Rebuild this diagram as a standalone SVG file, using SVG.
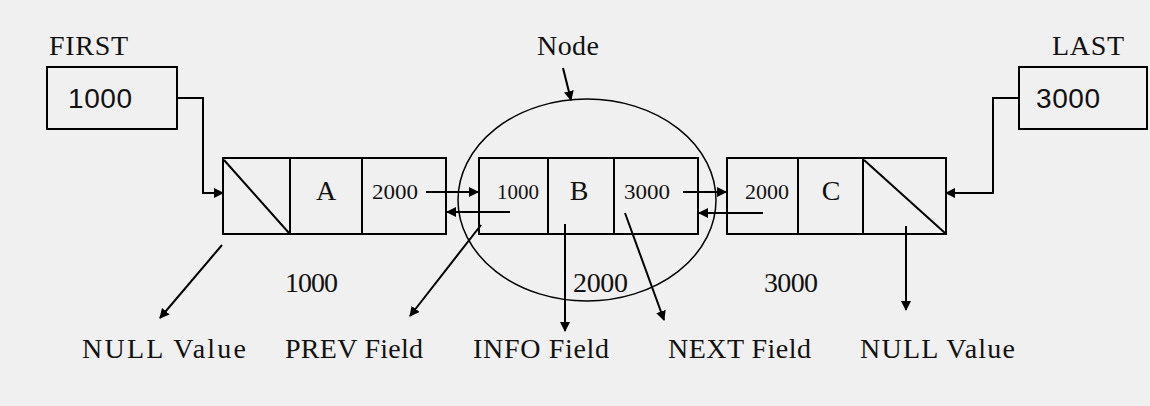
<svg xmlns="http://www.w3.org/2000/svg" width="1150" height="406" viewBox="0 0 1150 406">
<defs>
<marker id="ah" markerWidth="10" markerHeight="10" refX="9" refY="5" orient="auto" markerUnits="userSpaceOnUse" viewBox="0 0 10 10"><path d="M0,0 L10,5 L0,10 z" fill="#000"/></marker>
<style>
rect,line.c{fill:none;stroke:#000;stroke-width:2}
.w{stroke:#000;stroke-width:2;fill:none}
.a{stroke:#000;stroke-width:2;fill:none;marker-end:url(#ah)}
text{font-family:"Liberation Serif",serif;font-size:28px;fill:#111}
.s{font-size:22px}
.m{text-anchor:middle}
.sans{font-family:"Liberation Sans",sans-serif;font-size:28px}
</style>
</defs>
<rect x="0" y="0" width="1150" height="406" style="fill:#f0f0f0;stroke:none"/>
<g id="first"><text x="49" y="55" textLength="79">FIRST</text><rect x="47" y="67" width="130" height="62"/><text class="sans" x="68" y="108" textLength="64">1000</text></g>
<g id="last"><text x="1052" y="55" textLength="72">LAST</text><rect x="1019" y="67" width="128" height="62"/><text class="sans" x="1036" y="108" textLength="64">3000</text></g>
<g id="nodeA"><rect x="223" y="158" width="223" height="76"/><line class="c" x1="290" y1="158" x2="290" y2="234"/><line class="c" x1="362" y1="158" x2="362" y2="234"/><line class="c" x1="224" y1="160" x2="289" y2="233"/><text class="m" x="326" y="200">A</text><text class="s" x="372" y="199" textLength="46" lengthAdjust="spacingAndGlyphs">2000</text></g>
<g id="nodeB"><rect x="479" y="158" width="219" height="76"/><line class="c" x1="548" y1="158" x2="548" y2="234"/><line class="c" x1="614" y1="158" x2="614" y2="234"/><text class="m" x="579" y="200">B</text><text class="s" x="497" y="199" textLength="42" lengthAdjust="spacingAndGlyphs">1000</text><text class="s" x="624" y="199" textLength="46" lengthAdjust="spacingAndGlyphs">3000</text></g>
<g id="nodeC"><rect x="727" y="158" width="219" height="76"/><line class="c" x1="798" y1="158" x2="798" y2="234"/><line class="c" x1="863" y1="158" x2="863" y2="234"/><line class="c" x1="864" y1="160" x2="945" y2="233"/><text class="m" x="831" y="200">C</text><text class="s" x="745" y="199" textLength="44" lengthAdjust="spacingAndGlyphs">2000</text></g>
<g id="nodeEllipse"><ellipse cx="587" cy="200" rx="129" ry="101" class="w" style="stroke-width:1.5"/><text x="537" y="55" textLength="62">Node</text></g>
<g id="labels">
<text x="285" y="292" textLength="53">1000</text><text x="573" y="292" textLength="55">2000</text><text x="764" y="292" textLength="54">3000</text>
<text x="82" y="358" textLength="164">NULL Value</text><text x="285" y="358" textLength="138">PREV Field</text><text x="473" y="358" textLength="136">INFO Field</text><text x="668" y="358" textLength="143">NEXT Field</text><text x="860" y="358" textLength="155">NULL Value</text>
</g>
<g id="connectors">
<polyline class="a" points="177,98 203,98 203,193 223,193"/>
<polyline class="a" points="1019,98 993,98 993,193 946,193"/>
<line class="a" x1="426" y1="192" x2="478" y2="192"/>
<line class="a" x1="510" y1="212" x2="447" y2="212"/>
<line class="a" x1="683" y1="192" x2="726" y2="192"/>
<line class="a" x1="763" y1="213" x2="699" y2="213"/>
<line class="a" x1="222" y1="245" x2="160" y2="318"/>
<line class="a" x1="481" y1="225" x2="410" y2="316"/>
<line class="a" x1="565" y1="224" x2="565" y2="331"/>
<line class="a" x1="625" y1="213" x2="664" y2="320"/>
<line class="a" x1="906" y1="226" x2="906" y2="310"/>
<line class="a" x1="563" y1="68" x2="571" y2="100"/>
</g>
</svg>
